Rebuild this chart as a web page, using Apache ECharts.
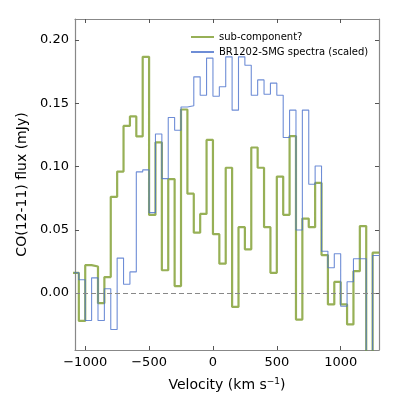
<!DOCTYPE html>
<html>
<head>
<meta charset="utf-8">
<script src="https://cdn.jsdelivr.net/npm/echarts@6/dist/echarts.min.js"></script>
<style>
  html, body { margin: 0; padding: 0; background: #fff; }
  #chart { width: 399px; height: 399px; }
</style>
</head>
<body>
<div id="chart"></div>
<script>
// channel edges in km/s (50 km/s bins), last one closes the final bin
const channelEdges = [
  -1100, -1050, -1000, -950, -900, -850, -800, -750, -700, -650, -600, -550,
  -500, -450, -400, -350, -300, -250, -200, -150, -100, -50, 0, 50,
  100, 150, 200, 250, 300, 350, 400, 450, 500, 550, 600, 650,
  700, 750, 800, 850, 900, 950, 1000, 1050, 1100, 1150, 1200, 1250, 1300
]

// flux per channel (mJy)
const subComponent = [
  0.016, -0.022, 0.022, 0.021, -0.008, 0.0126, 0.076, 0.096, 0.132, 0.1395, 0.1237, 0.1866,
  0.0617, 0.119, 0.018, 0.090, 0.0055, 0.145, 0.0785, 0.0477, 0.0625, 0.121, 0.0465, 0.0232,
  0.099, -0.011, 0.052, 0.0345, 0.115, 0.099, 0.052, 0.016, 0.092, 0.0618, 0.124, -0.021,
  0.0588, 0.052, 0.087, 0.030, -0.009, 0.0088, -0.009, -0.0248, 0.0173, 0.0529, -0.08, 0.0319
]

const smgScaled = [
  0.016, 0.0105, -0.0217, 0.012, -0.0217, 0.0034, -0.0288, 0.0276, 0.007, 0.0167, 0.0957, 0.0973,
  0.0635, 0.1256, 0.0904, 0.1387, 0.1286, 0.147, 0.148, 0.1708, 0.1563, 0.1856, 0.1555, 0.163,
  0.1866, 0.1445, 0.1866, 0.180, 0.1563, 0.1684, 0.157, 0.1658, 0.1563, 0.1229, 0.1445, 0.0498,
  0.1445, 0.086, 0.1004, 0.033, 0.020, 0.031, -0.0104, 0.0089, 0.0271, 0.0271, -0.08, 0.0297
]

const xTicks = [-1000, -500, 0, 500, 1000]
const yTicks = [0, 0.05, 0.10, 0.15, 0.20]

const xRange = [-1080, 1300]
const yRange = [-0.045, 0.2165]

const spineColor = '#888888'
const greenColor = '#7d9c2c'
const blueColor = '#4a70cc'
const fontFamily = 'DejaVu Sans'

// step data: each channel value held from its left edge to the next edge
const toSteps = vals => channelEdges.map((v, i) => [v, vals[Math.min(i, vals.length - 1)]])

const chart = echarts.init(document.getElementById('chart'), null, { renderer: 'canvas' })

const baseX = {
  type: 'value',
  min: xRange[0],
  max: xRange[1],
  axisLine: { show: true, onZero: false, lineStyle: { color: spineColor, width: 1.2 } },
  axisTick: { show: true, inside: true, length: 4, customValues: xTicks, lineStyle: { color: '#555', width: 1 } },
  splitLine: { show: false },
}
const baseY = {
  type: 'value',
  min: yRange[0],
  max: yRange[1],
  axisLine: { show: true, onZero: false, lineStyle: { color: spineColor, width: 1.2 } },
  axisTick: { show: true, inside: true, length: 4, customValues: yTicks, lineStyle: { color: '#555', width: 1 } },
  splitLine: { show: false },
}

chart.setOption({
  animation: false,
  grid: { left: 75, right: 20, top: 19, bottom: 49, containLabel: false },
  legend: {
    orient: 'vertical',
    left: 185,
    top: 27,
    itemWidth: 23,
    itemHeight: 10,
    itemGap: 5,
    itemStyle: { opacity: 0 },
    textStyle: { fontFamily, fontSize: 10, color: '#000' },
    data: ['sub-component?', 'BR1202-SMG spectra (scaled)'],
  },
  xAxis: [
    {
      ...baseX,
      position: 'bottom',
      name: 'Velocity (km s{sup|\u22121})',
      nameLocation: 'middle',
      nameGap: 27,
      nameTextStyle: {
        fontFamily, fontSize: 14, color: '#000',
        rich: { sup: { fontFamily, fontSize: 9, color: '#000', verticalAlign: 'top', padding: [0, 0, 8, 0] } },
      },
      axisLabel: {
        show: true, customValues: xTicks, margin: 6,
        fontFamily, fontSize: 13, color: '#000',
        formatter: v => (v < 0 ? '\u2212' + Math.abs(v) : String(v)),
      },
    },
    { ...baseX, position: 'top', axisLabel: { show: false } },
  ],
  yAxis: [
    {
      ...baseY,
      position: 'left',
      name: 'CO(12-11) flux (mJy)',
      nameLocation: 'middle',
      nameGap: 45,
      nameTextStyle: { fontFamily, fontSize: 14, color: '#000' },
      axisLabel: {
        show: true, customValues: yTicks, margin: 6,
        fontFamily, fontSize: 13, color: '#000',
        formatter: v => v.toFixed(2),
      },
    },
    { ...baseY, position: 'right', axisLabel: { show: false } },
  ],
  series: [
    {
      name: 'sub-component?',
      type: 'line',
      step: 'end',
      showSymbol: false,
      symbol: 'none',
      clip: true,
      data: toSteps(subComponent),
      lineStyle: { color: greenColor, width: 2.2, opacity: 0.8 },
      itemStyle: { color: greenColor },
      markLine: {
        silent: true,
        symbol: 'none',
        label: { show: false },
        lineStyle: { color: '#888', type: [5, 3], width: 1.2 },
        data: [{ yAxis: 0 }],
      },
    },
    {
      name: 'BR1202-SMG spectra (scaled)',
      type: 'line',
      step: 'end',
      showSymbol: false,
      symbol: 'none',
      clip: true,
      data: toSteps(smgScaled),
      lineStyle: { color: blueColor, width: 1.1, opacity: 0.8 },
      itemStyle: { color: blueColor },
    },
  ],
})
</script>
</body>
</html>
